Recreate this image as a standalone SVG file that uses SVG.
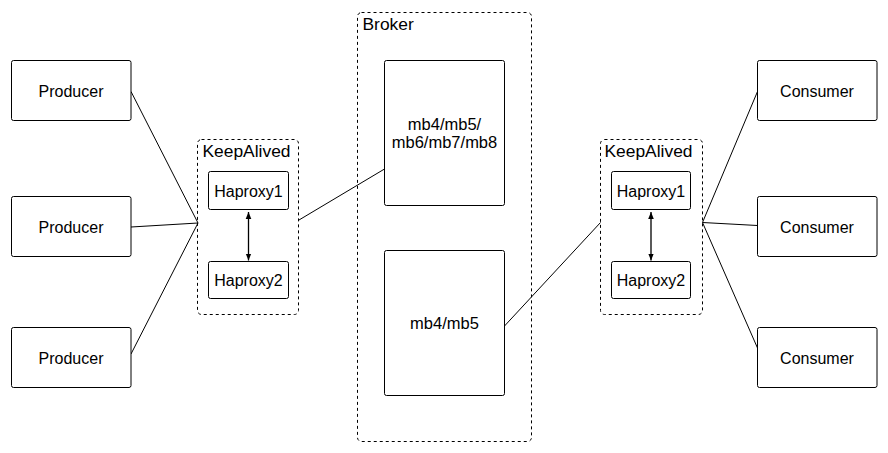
<svg xmlns="http://www.w3.org/2000/svg" width="888" height="453" viewBox="0 0 888 453">
<style>
.box{fill:#fff;stroke:#000;stroke-width:1}
.grp{fill:none;stroke:#000;stroke-width:1;stroke-dasharray:3 3}
.t{font-family:"Liberation Sans",Arial,sans-serif;font-size:16px;fill:#000;text-anchor:middle}
.lbl{font-family:"Liberation Sans",Arial,sans-serif;font-size:17.4px;fill:#000}
.ln{fill:none;stroke:#000;stroke-width:1}
.dbl{fill:none;stroke:#000;stroke-width:1.3}
</style>
<defs>
<marker id="ah" viewBox="0 0 10 10" refX="10" refY="5" markerWidth="7" markerHeight="7" markerUnits="userSpaceOnUse" orient="auto-start-reverse">
<path d="M0,1 L10,5 L0,9 Z" fill="#000"/>
</marker>
</defs>
<rect x="0" y="0" width="888" height="453" fill="#fff"/>
<g id="connectors">
<line class="ln" x1="131" y1="91.5" x2="198" y2="223"/>
<line class="ln" x1="131" y1="227" x2="198" y2="223"/>
<line class="ln" x1="131" y1="354" x2="198" y2="223"/>
<line class="ln" x1="299" y1="220" x2="384.5" y2="169"/>
<line class="ln" x1="504.5" y1="326" x2="600.5" y2="222.5"/>
<line class="ln" x1="702.5" y1="222.5" x2="757.5" y2="91.5"/>
<line class="ln" x1="702.5" y1="222.5" x2="757.5" y2="225.5"/>
<line class="ln" x1="702.5" y1="222.5" x2="757.5" y2="348"/>
<line class="dbl" x1="248.5" y1="212" x2="248.5" y2="260.5" marker-start="url(#ah)" marker-end="url(#ah)"/>
<line class="dbl" x1="651" y1="212" x2="651" y2="260.5" marker-start="url(#ah)" marker-end="url(#ah)"/>
</g>
<g id="broker">
<rect class="grp" x="357.5" y="12.5" width="174" height="429" rx="4"/>
<text class="lbl" x="362.5" y="30">Broker</text>
</g>
<g id="mb-a">
<rect class="box" x="384.5" y="60.5" width="120" height="145" rx="2"/>
<text class="t" x="444.5" y="130" style="font-size:16.5px">mb4/mb5/</text>
<text class="t" x="444.5" y="148" style="font-size:16.5px">mb6/mb7/mb8</text>
</g>
<g id="mb-b">
<rect class="box" x="384.5" y="250.5" width="120" height="145" rx="2"/>
<text class="t" x="444.5" y="328.5" style="font-size:16.5px">mb4/mb5</text>
</g>
<g id="keepalived-left">
<rect class="grp" x="197.5" y="139.5" width="101" height="175" rx="4"/>
<text class="lbl" x="202.5" y="156.5">KeepAlived</text>
</g>
<g id="haproxy1-left">
<rect class="box" x="208.5" y="171.5" width="80" height="38" rx="2"/>
<text class="t" x="248.5" y="196.5">Haproxy1</text>
</g>
<g id="haproxy2-left">
<rect class="box" x="208.5" y="261.5" width="80" height="37" rx="2"/>
<text class="t" x="248.5" y="286">Haproxy2</text>
</g>
<g id="keepalived-right">
<rect class="grp" x="600.5" y="139.5" width="102" height="175" rx="4"/>
<text class="lbl" x="604.5" y="156.5">KeepAlived</text>
</g>
<g id="haproxy1-right">
<rect class="box" x="611.5" y="171.5" width="79" height="38" rx="2"/>
<text class="t" x="651" y="196.5">Haproxy1</text>
</g>
<g id="haproxy2-right">
<rect class="box" x="611.5" y="261.5" width="79" height="37" rx="2"/>
<text class="t" x="651" y="286">Haproxy2</text>
</g>
<g id="producer1">
<rect class="box" x="11.5" y="60.5" width="119.5" height="60" rx="2"/>
<text class="t" x="71" y="96.5">Producer</text>
</g>
<g id="producer2">
<rect class="box" x="11.5" y="196.5" width="119.5" height="60" rx="2"/>
<text class="t" x="71" y="232.5">Producer</text>
</g>
<g id="producer3">
<rect class="box" x="11.5" y="327.5" width="119.5" height="60" rx="2"/>
<text class="t" x="71" y="363.5">Producer</text>
</g>
<g id="consumer1">
<rect class="box" x="757.5" y="60.5" width="119.5" height="60" rx="2"/>
<text class="t" x="817" y="96.5">Consumer</text>
</g>
<g id="consumer2">
<rect class="box" x="757.5" y="196.5" width="119.5" height="60" rx="2"/>
<text class="t" x="817" y="232.5">Consumer</text>
</g>
<g id="consumer3">
<rect class="box" x="757.5" y="327.5" width="119.5" height="60" rx="2"/>
<text class="t" x="817" y="363.5">Consumer</text>
</g>
</svg>
